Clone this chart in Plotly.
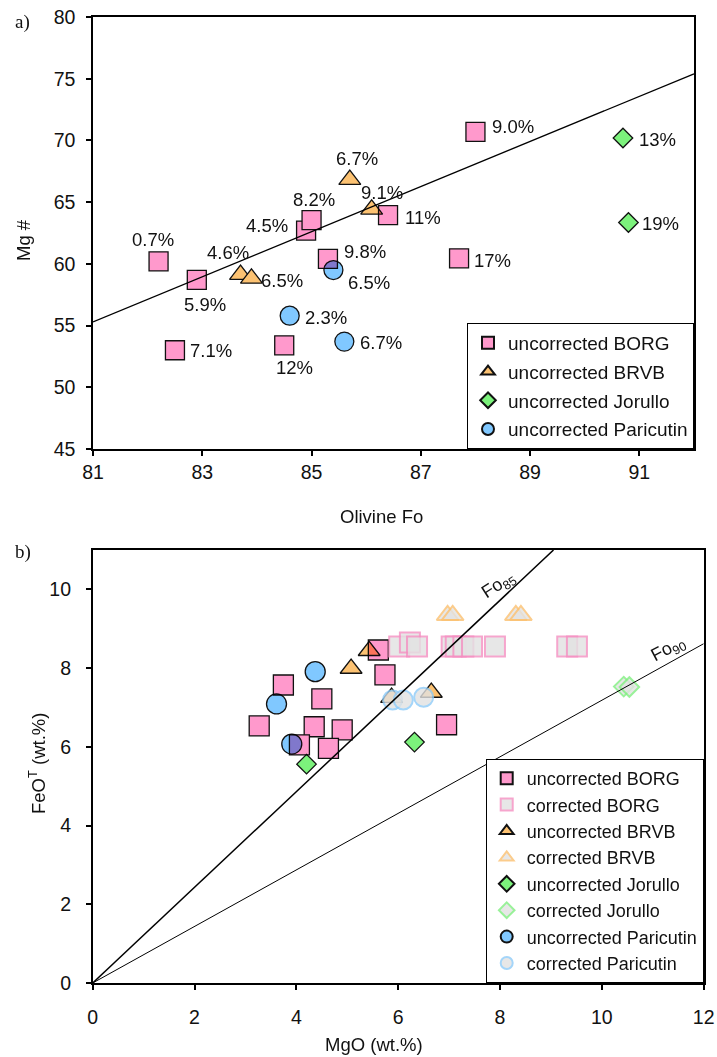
import plotly.graph_objects as go

# ---------------- Panel a: olivine Fo vs. melt Mg# ----------------
borg_fo = [82.2, 82.9, 82.5, 84.9, 85.0, 85.3, 84.5, 86.4, 88.0, 87.7]
borg_mg = [60.2, 58.7, 53.0, 62.7, 63.55, 60.4, 53.4, 63.95, 70.7, 60.45]
borg_pct = ["0.7%", "5.9%", "7.1%", "4.5%", "8.2%", "9.8%", "12%", "11%", "9.0%", "17%"]

brvb_fo = [83.7, 83.9, 85.7, 86.1]
brvb_mg = [59.13, 58.82, 66.82, 64.42]
brvb_pct = ["4.6%", "6.5%", "6.7%", "9.1%"]

jor_fo = [90.7, 90.8]
jor_mg = [70.2, 63.35]
jor_pct = ["13%", "19%"]

par_fo = [85.4, 84.6, 85.6]
par_mg = [59.5, 55.8, 53.7]
par_pct = ["6.5%", "2.3%", "6.7%"]

trend_fo = [81, 92]
trend_mg = [55.3, 75.4]

# label offsets (pixels) for the percentage annotations
borg_dx = [-6, 8, 36, -39, 2, 37, 10, 35, 38, 33]
borg_dy = [22, -25, 0, 5, 21, 7, -22, -2, 5, -2]
brvb_dx = [-13, 31, 7, 10]
brvb_dy = [22, -2, 21, 17]
jor_dx = [35, 32]
jor_dy = [-2, -1]
par_dx = [36, 36, 37]
par_dy = [-12, -2, -1]

# ---------------- Panel b: MgO vs. FeO(T) ----------------
borg_mgo_unc = [3.745, 4.50, 3.27, 4.35, 4.90, 4.06, 4.63, 5.61, 5.74, 6.95]
borg_feo_unc = [7.57, 7.22, 6.53, 6.51, 6.43, 6.05, 5.96, 8.46, 7.83, 6.56]
borg_mgo_cor = [6.02, 6.23, 6.37, 7.05, 7.13, 7.28, 7.45, 7.90, 9.32, 9.51]
borg_feo_cor = [8.55, 8.65, 8.55, 8.55, 8.55, 8.55, 8.55, 8.55, 8.55, 8.55]

brvb_mgo_unc = [5.43, 5.075, 5.87, 6.65]
brvb_feo_unc = [8.44, 7.99, 7.25, 7.38]
brvb_mgo_cor = [6.97, 7.07, 8.31, 8.41]
brvb_feo_cor = [9.34, 9.34, 9.34, 9.34]

jor_mgo_unc = [4.20, 6.32]
jor_feo_unc = [5.56, 6.12]
jor_mgo_cor = [10.43, 10.54]
jor_feo_cor = [7.53, 7.52]

par_mgo_unc = [4.37, 3.61, 3.91]
par_feo_unc = [7.91, 7.09, 6.07]
par_mgo_cor = [5.89, 6.10, 6.50]
par_feo_cor = [7.19, 7.19, 7.26]

fo85_mgo = [0, 9.05]
fo85_feo = [0, 11.0]
fo90_mgo = [0, 12]
fo90_feo = [0, 8.62]

# ---------------- styling ----------------
W, H = 717, 1057
FONT = "Liberation Sans, Arial, Helvetica, sans-serif"
SERIF = "Liberation Serif, Times New Roman, serif"
PINK, ORANGE, GREEN, BLUE = "#ff99cc", "#fcc272", "#7cf27c", "#80c8ff"
GRAY = "#e2e2e2"
PINK_E, ORANGE_E, GREEN_E, BLUE_E = "#f48fc1", "#fbc070", "#80ee80", "#8ecbf8"

SQ, CI, TR, DI = 19, 19, 19, 15


def px_x(p):
    return p / W


def px_y(p):
    return 1 - p / H


fig = go.Figure()


def unc(x, y, name, symbol, color, size, xa, ya, legend, rank, group):
    fig.add_trace(go.Scatter(
        x=x, y=y, mode="markers", name=name, xaxis=xa, yaxis=ya,
        legend=legend, legendrank=rank, legendgroup=group, meta="multiply",
        marker=dict(symbol=symbol, size=size, color=color,
                    line=dict(color="#111111", width=1.3)),
        hoverinfo="skip"))


def cor(x, y, name, symbol, edge, size, rank, group):
    fig.add_trace(go.Scatter(
        x=x, y=y, mode="markers", name=name, xaxis="x2", yaxis="y2",
        legend="legend2", legendrank=rank, legendgroup=group,
        marker=dict(symbol=symbol, size=size, color=GRAY, opacity=0.8,
                    line=dict(color=edge, width=2)),
        hoverinfo="skip"))


# panel a markers
unc(borg_fo, borg_mg, "uncorrected BORG", "square", PINK, SQ, "x", "y", "legend", 1, "a1")
unc(brvb_fo, brvb_mg, "uncorrected BRVB", "triangle-up", ORANGE, TR, "x", "y", "legend", 2, "a2")
unc(jor_fo, jor_mg, "uncorrected Jorullo", "diamond", GREEN, DI, "x", "y", "legend", 3, "a3")
unc(par_fo, par_mg, "uncorrected Paricutin", "circle", BLUE, CI, "x", "y", "legend", 4, "a4")

fig.add_trace(go.Scatter(x=trend_fo, y=trend_mg, mode="lines", xaxis="x", yaxis="y",
                         line=dict(color="black", width=1.3), showlegend=False,
                         hoverinfo="skip"))

# panel b markers
unc(borg_mgo_unc, borg_feo_unc, "uncorrected BORG", "square", PINK, 20, "x2", "y2", "legend2", 1, "b1")
unc(brvb_mgo_unc, brvb_feo_unc, "uncorrected BRVB", "triangle-up", ORANGE, TR, "x2", "y2", "legend2", 3, "b3")
unc(jor_mgo_unc, jor_feo_unc, "uncorrected Jorullo", "diamond", GREEN, DI, "x2", "y2", "legend2", 5, "b5")
unc(par_mgo_unc, par_feo_unc, "uncorrected Paricutin", "circle", BLUE, 20, "x2", "y2", "legend2", 7, "b7")
cor(borg_mgo_cor, borg_feo_cor, "corrected BORG", "square", PINK_E, 20, 2, "b2")
cor(brvb_mgo_cor, brvb_feo_cor, "corrected BRVB", "triangle-up", ORANGE_E, TR, 4, "b4")
cor(jor_mgo_cor, jor_feo_cor, "corrected Jorullo", "diamond", GREEN_E, DI, 6, "b6")
cor(par_mgo_cor, par_feo_cor, "corrected Paricutin", "circle", BLUE_E, 19, 8, "b8")

fig.add_trace(go.Scatter(x=fo85_mgo, y=fo85_feo, mode="lines", xaxis="x2", yaxis="y2",
                         line=dict(color="black", width=1.5), showlegend=False,
                         hoverinfo="skip"))
fig.add_trace(go.Scatter(x=fo90_mgo, y=fo90_feo, mode="lines", xaxis="x2", yaxis="y2",
                         line=dict(color="black", width=1.0), showlegend=False,
                         hoverinfo="skip"))

# percentage labels in panel a
annotations = []
for xs, ys, labels, dxs, dys in [
    (borg_fo, borg_mg, borg_pct, borg_dx, borg_dy),
    (brvb_fo, brvb_mg, brvb_pct, brvb_dx, brvb_dy),
    (jor_fo, jor_mg, jor_pct, jor_dx, jor_dy),
    (par_fo, par_mg, par_pct, par_dx, par_dy),
]:
    for xv, yv, t, dx, dy in zip(xs, ys, labels, dxs, dys):
        annotations.append(dict(x=xv, y=yv, xref="x", yref="y", text=t,
                                showarrow=False, xshift=dx, yshift=dy,
                                xanchor="center", yanchor="middle",
                                font=dict(family=FONT, size=18.5, color="#111111")))

# Fo isopleth labels in panel b
annotations.append(dict(x=7.97, y=10.11, xref="x2", yref="y2",
                        text="Fo<sub>85</sub>", showarrow=False, textangle=-33,
                        xanchor="center", yanchor="middle",
                        font=dict(family=FONT, size=18, color="#111111")))
annotations.append(dict(x=11.31, y=8.46, xref="x2", yref="y2",
                        text="Fo<sub>90</sub>", showarrow=False, textangle=-28,
                        xanchor="center", yanchor="middle",
                        font=dict(family=FONT, size=18, color="#111111")))


def page_text(x, y, text, angle=0, family=FONT, size=18.5):
    return dict(x=px_x(x), y=px_y(y), xref="paper", yref="paper", text=text,
                showarrow=False, textangle=angle, xanchor="center", yanchor="middle",
                font=dict(family=family, size=size, color="#111111"))


# panel letters and axis titles
annotations += [
    page_text(22, 22, "a)", family=SERIF, size=19),
    page_text(23, 552, "b)", family=SERIF, size=19),
    page_text(382, 516, "Olivine Fo"),
    page_text(24, 240, "Mg #", angle=-90),
    page_text(374, 1044, "MgO (wt.%)"),
    page_text(37, 764, "FeO<sup>T</sup> (wt.%)", angle=-90),
]

axis_common = dict(showgrid=False, zeroline=False, showline=True, linecolor="black",
                   linewidth=1.5, mirror=True, ticks="outside", ticklen=5,
                   tickwidth=1.5, tickcolor="black", ticklabeloverflow="allow",
                   tickfont=dict(family=FONT, size=19.5, color="#111111"))

legend_common = dict(bgcolor="white", bordercolor="black", borderwidth=1,
                     itemsizing="constant", xanchor="right", yanchor="bottom",
                     itemclick=False, itemdoubleclick=False)

# the figure fills the window: its size comes from the pinned container below
fig.update_layout(
    autosize=True,
    margin=dict(l=0, r=0, t=0, b=0, autoexpand=False),
    paper_bgcolor="white", plot_bgcolor="white",
    showlegend=True,
    xaxis=dict(domain=[px_x(93), px_x(694)], range=[81, 92],
               tickvals=[81, 83, 85, 87, 89, 91], anchor="y",
               ticklabelstandoff=0, **axis_common),
    yaxis=dict(domain=[px_y(449), px_y(17)], range=[45, 80],
               tickvals=[45, 50, 55, 60, 65, 70, 75, 80], anchor="x",
               ticklabelstandoff=7, **axis_common),
    xaxis2=dict(domain=[px_x(92.7), px_x(703.7)], range=[0, 12],
                tickvals=[0, 2, 4, 6, 8, 10, 12], anchor="y2",
                ticklabelstandoff=11, **axis_common),
    yaxis2=dict(domain=[px_y(983), px_y(550)], range=[0, 11],
                tickvals=[0, 2, 4, 6, 8, 10], anchor="x2",
                ticklabelstandoff=11, **axis_common),
    legend=dict(x=px_x(694), y=px_y(449), tracegroupgap=1,
                font=dict(family=FONT, size=19, color="#111111"), **legend_common),
    legend2=dict(x=px_x(703.7), y=px_y(983), tracegroupgap=0,
                 font=dict(family=FONT, size=18, color="#111111"), **legend_common),
    annotations=annotations,
)

# overlapping filled symbols darken each other
blend_js = """
var gd = document.getElementById('{plot_id}');
function blendMarkers() {
  gd.querySelectorAll('.scatterlayer .trace').forEach(function (g) {
    var d = g.__data__;
    if (d && d[0] && d[0].trace && d[0].trace.meta === 'multiply') {
      g.style.mixBlendMode = 'multiply';
    }
  });
}
blendMarkers();
if (gd.on) { gd.on('plotly_afterplot', blendMarkers); }
"""

fig.write_html(
    "out.html",
    default_width="%dpx; position:absolute; left:0; top:0" % W,
    default_height="%dpx" % H,
    post_script=blend_js,
)
